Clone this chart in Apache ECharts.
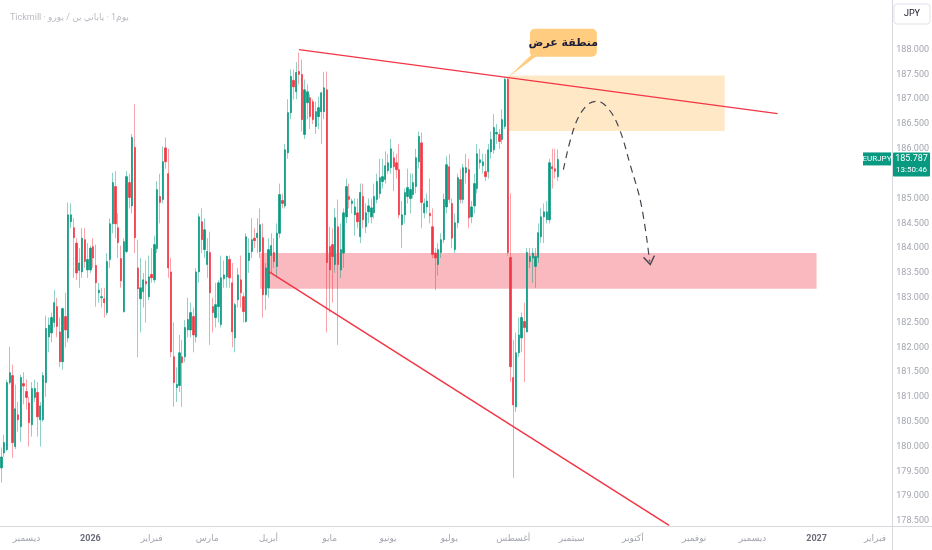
<!DOCTYPE html>
<html><head><meta charset="utf-8">
<script src="https://cdn.jsdelivr.net/npm/echarts@6/dist/echarts.min.js"></script>
<style>html,body{margin:0;padding:0;background:#fff}#c{width:932px;height:550px}</style>
</head><body><div id="c"></div>
<script>
// ---- data ----
const startDate = [2025, 10, 18];           // first bar (UTC y, m0, d)
const totalBars = 320;                       // bars on the axis incl. future space
const monthNames = ['يناير','فبراير','مارس','أبريل','مايو','يونيو','يوليو','أغسطس','سبتمبر','أكتوبر','نوفمبر','ديسمبر'];
const yTickMin = 178.5, yTickMax = 189, yTickStep = 0.5, yTopLabel = 188;
// [open, high, low, close]
const ohlc = [
[179.57,179.98,179.27,179.79],[179.87,180.24,179.79,180.08],[179.94,181.35,179.90,181.29],[181.29,182.01,181.25,181.49],
[181.43,181.65,179.77,180.08],[180.00,181.25,179.95,180.76],[180.64,180.90,180.30,180.54],[180.40,181.45,180.10,181.39],
[181.27,181.50,180.85,181.22],[181.11,181.35,180.75,180.99],[180.88,181.00,180.00,180.48],[180.44,181.30,180.20,181.17],
[180.99,181.35,180.90,181.17],[181.09,181.30,180.20,180.60],[180.54,180.90,180.00,180.82],[180.54,181.50,180.50,181.43],
[181.29,182.64,181.00,182.38],[182.21,182.60,181.90,182.45],[182.29,182.70,182.10,182.60],[182.50,183.16,182.40,182.90],
[182.82,183.00,182.20,182.42],[182.31,182.60,181.60,181.71],[181.71,182.80,181.55,182.78],[182.62,183.10,182.00,182.35],
[182.19,184.92,182.10,184.67],[184.53,184.90,184.40,184.67],[184.41,184.60,183.40,184.21],[184.10,184.20,183.36,183.50],
[183.55,184.00,183.20,183.70],[183.52,184.40,183.40,184.20],[184.17,184.40,183.60,183.73],[183.56,184.10,183.40,183.77],
[183.56,184.05,183.50,184.00],[184.03,184.20,183.60,183.80],[183.65,184.07,182.82,183.30],[183.10,183.30,182.90,183.15],
[183.00,183.20,182.80,183.02],[182.98,183.20,182.60,182.90],[182.70,183.90,182.65,183.73],[183.77,184.60,183.60,184.49],
[184.49,185.52,184.30,185.32],[185.24,185.55,184.20,184.49],[184.41,184.70,183.80,184.11],[183.79,184.05,183.20,183.34],
[182.72,184.20,182.70,184.13],[183.93,185.55,183.90,185.44],[185.32,185.50,184.80,185.02],[184.85,186.30,184.70,186.23],
[186.03,186.90,183.90,184.21],[183.60,184.17,181.80,183.18],[182.98,183.80,182.30,183.20],[183.12,183.50,182.80,183.36],
[183.33,183.75,182.50,183.28],[183.02,183.85,182.95,183.42],[183.47,184.00,183.30,183.40],[183.36,184.25,183.30,184.07],
[183.99,185.35,183.90,185.18],[185.04,185.50,184.50,184.92],[184.98,186.05,184.90,185.74],[186.02,186.23,185.60,185.74],
[185.50,186.00,183.40,183.60],[183.52,183.80,181.80,181.91],[181.81,182.50,180.80,181.29],[181.19,181.60,180.90,181.25],
[181.23,182.25,181.10,181.89],[181.81,182.15,180.80,181.69],[181.81,182.55,181.70,182.40],[182.35,183.00,182.20,182.56],
[182.35,182.90,182.20,182.70],[182.62,182.80,181.90,182.25],[182.21,183.60,182.10,183.52],[183.52,184.70,183.30,184.63],
[184.53,184.80,183.90,184.17],[183.97,184.60,183.80,184.37],[183.67,184.20,183.40,183.93],[183.91,184.33,182.05,183.10],
[182.82,183.00,182.30,182.70],[182.60,183.30,182.40,182.86],[182.82,183.35,182.50,183.30],[182.46,183.85,182.40,183.40],
[183.38,183.75,183.20,183.46],[183.42,183.85,183.20,183.83],[183.77,183.85,183.20,183.40],[183.30,183.70,182.00,182.31],
[182.19,182.90,181.90,182.86],[182.96,183.60,182.80,183.46],[183.36,183.85,182.80,183.10],[183.02,183.10,182.50,182.72],
[182.52,184.30,182.50,184.23],[183.75,184.20,183.50,183.90],[183.93,184.60,183.80,184.17],[184.20,184.40,184.00,184.15],
[184.21,184.60,183.90,184.30],[183.93,184.80,183.80,184.47],[184.21,184.50,182.60,183.06],[183.06,183.70,182.75,183.60],
[183.20,184.20,183.00,183.97],[183.85,184.30,183.50,184.05],[183.91,184.20,183.60,183.73],[183.63,184.50,183.40,184.30],
[184.30,185.30,184.20,185.08],[184.96,185.10,184.80,184.90],[184.85,186.10,184.80,185.98],[185.92,187.00,185.80,186.73],
[186.73,187.60,186.60,187.46],[187.38,187.60,187.00,187.25],[187.15,187.75,187.00,187.54],[187.56,187.94,187.30,187.50],
[187.50,187.80,186.35,186.59],[186.29,187.40,186.20,187.19],[186.93,187.30,186.60,187.15],[187.03,187.10,186.40,186.65],
[186.95,187.00,186.50,186.59],[186.45,186.95,186.30,186.75],[186.65,187.05,186.40,186.83],[186.75,187.15,186.10,187.13],
[186.75,187.55,186.60,187.23],[187.19,187.56,182.30,183.71],[184.03,184.43,182.70,183.56],[184.07,184.40,182.90,183.83],
[183.67,184.80,183.50,184.61],[184.43,184.98,182.05,183.67],[183.56,184.50,183.40,183.97],[183.90,184.80,183.60,184.71],
[184.63,185.40,184.50,185.24],[185.04,185.30,184.80,184.98],[184.90,185.00,184.70,184.95],[184.67,185.00,184.25,184.83],
[184.71,185.00,184.40,184.53],[184.23,185.30,184.10,185.12],[185.04,185.30,184.40,184.57],[184.43,184.90,184.30,184.71],
[184.73,185.00,184.50,184.85],[184.63,185.00,184.50,184.81],[184.71,185.30,184.60,185.04],[184.98,185.50,184.90,185.34],
[185.10,185.80,185.00,185.42],[185.34,185.80,185.20,185.44],[185.38,185.95,185.30,185.66],[185.56,185.90,185.50,185.72],
[185.62,186.20,185.50,186.00],[185.82,185.95,185.15,185.64],[185.72,185.90,185.40,185.58],[185.58,186.10,184.60,184.67],
[184.47,184.95,184.00,184.67],[184.67,185.20,184.50,185.12],[185.04,185.60,184.90,185.22],[185.00,185.50,184.70,185.18],
[185.08,185.50,185.00,185.32],[185.24,186.00,185.10,185.82],[185.74,186.35,185.60,186.25],[186.12,186.33,184.40,184.92],
[184.71,185.00,184.60,184.90],[184.83,185.10,184.70,184.95],[184.70,185.40,184.50,184.65],[184.43,184.80,183.80,183.87],
[183.90,184.00,183.15,183.80],[183.67,184.10,183.45,183.97],[183.91,184.30,183.80,184.17],[184.17,185.10,184.10,184.98],
[184.83,185.85,184.70,185.68],[185.64,185.90,184.90,184.98],[184.90,185.00,184.00,184.20],[183.97,184.70,183.90,184.51],
[184.51,185.50,184.40,185.42],[185.38,185.60,184.90,184.98],[184.98,185.70,184.90,185.62],[185.52,185.90,185.30,185.62],
[185.58,185.80,184.40,184.61],[184.63,184.95,184.50,184.83],[184.85,185.50,184.70,185.30],[185.20,186.10,185.10,185.90],
[185.72,186.00,185.60,185.78],[185.66,185.90,185.50,185.74],[185.54,185.90,185.35,185.44],[185.54,186.10,185.40,185.98],
[185.94,186.35,185.80,186.19],[185.98,186.70,185.90,186.43],[186.30,186.50,186.10,186.33],[186.29,186.40,186.00,186.15],
[186.19,186.80,186.10,186.59],[186.45,187.44,186.40,187.40],[187.40,187.44,183.85,183.91],[183.81,185.10,181.30,181.61],
[181.39,182.15,179.37,180.84],[180.80,182.30,180.70,181.89],[181.89,182.60,181.80,182.25],[182.19,182.70,181.90,182.60],
[182.52,182.90,181.30,182.40],[182.31,184.00,182.30,183.91],[183.73,184.00,183.60,183.83],[183.80,184.00,183.30,183.90],
[183.63,184.00,183.20,183.83],[183.81,184.50,183.70,184.31],[184.23,184.80,184.10,184.63],[184.63,184.90,184.10,184.73],
[184.57,184.95,184.50,184.73],[184.57,185.80,184.50,185.72],[185.64,186.00,185.20,185.60],[185.60,186.00,185.40,185.55],
[185.44,185.99,185.35,185.787]
];
// annotations: bar index / price
const supplyZone = [182, 260, 187.48, 186.36];   // fromBar, toBar, top, bottom
const demandZone = [93, 293, 183.90, 183.18];
const upperTrend = [[107, 188.00], [279, 186.71]];
const lowerTrend = [[96, 183.53], [240, 178.41]];
const projection = [[202,185.58],[206,186.45],[210,186.85],[214,186.96],[218,186.82],[222,186.42],[226,185.68],[230,184.87],[233,183.73]];
const zoneLabel = 'منطقة عرض';
const zoneLabelAt = [202, 188.14];
const zoneLabelTip = [182, 187.44];
const symbolName = 'EURJPY';
const lastPrice = 185.787;
const countdown = '13:50:46';
const currency = 'JPY';
const LRM = '\u200E';
const titleParts = ['Tickmill', '·', 'يورو', '/', 'ين', 'ياباني', '·', '1يوم'];
const titleText = titleParts.join(LRM + ' ' + LRM);

// ---- build ----
const cats = [];
{
  let t = Date.UTC(startDate[0], startDate[1], startDate[2]);
  while (cats.length < totalBars) {
    const d = new Date(t);
    const wd = d.getUTCDay();
    if (wd !== 0 && wd !== 6) cats.push(d.toISOString().slice(0, 10));
    t += 86400000;
  }
}
const isMonthStart = (i) => i > 0 && cats[i].slice(5, 7) !== cats[i - 1].slice(5, 7);

const UP = '#089981', DN = '#f23645';
const wickData = ohlc.map(r => [r[0], r[3], r[2], r[1]]);
const bodyData = ohlc.map(r => [r[0], r[3], Math.min(r[0], r[3]), Math.max(r[0], r[3])]);
const FONT = 'Roboto, "DejaVu Sans", sans-serif';

const chart = echarts.init(document.getElementById('c'), null, {renderer: 'canvas'});
const projData = projection.map((p, i) => {
  const item = {value: [cats[p[0]], p[1]]};
  if (i === projection.length - 1) {
    item.symbol = 'path://M0,0L6,9L12,0';
    item.symbolSize = [11, 8];
    item.symbolRotate = 9;
    item.symbolOffset = [0, -1];
    item.itemStyle = {color: 'rgba(0,0,0,0)', borderColor: '#434651', borderWidth: 1.3, opacity: 1};
  }
  return item;
});

chart.setOption({
  animation: false,
  backgroundColor: '#ffffff',
  title: {text: titleText, left: 5, top: 8, textStyle: {fontSize: 9, color: '#b9bbc2', fontWeight: 'normal', fontFamily: FONT}},
  grid: {left: 0, right: 40, top: 0, bottom: 29},
  xAxis: {
    type: 'category', data: cats, boundaryGap: true,
    axisLine: {show: false}, axisTick: {show: false}, splitLine: {show: false},
    axisLabel: {
      interval: (i) => isMonthStart(i),
      formatter: (v) => {
        const m = +v.slice(5, 7) - 1;
        return m === 0 ? '{y|' + v.slice(0, 4) + '}' : monthNames[m];
      },
      color: '#a3a6af', fontSize: 9, margin: 13, fontFamily: FONT,
      rich: {y: {color: '#6a6d78', fontSize: 9, fontWeight: 'bold', fontFamily: FONT}}
    }
  },
  yAxis: {
    type: 'value', position: 'right', min: yTickMin, max: yTickMax, interval: yTickStep,
    axisLine: {show: false}, axisTick: {show: false}, splitLine: {show: false},
    axisLabel: {
      formatter: (v) => v > yTopLabel + 0.001 ? '' : v.toFixed(3),
      color: '#a3a6af', fontSize: 9, margin: 6, fontFamily: FONT
    }
  },
  series: [
    {
      name: 'zones', type: 'line', data: [], silent: true, z: 1,
      markArea: {
        silent: true,
        data: [
          [{coord: [cats[supplyZone[0]], supplyZone[2]], itemStyle: {color: 'rgba(255,183,77,0.32)'}}, {coord: [cats[supplyZone[1]], supplyZone[3]]}],
          [{coord: [cats[demandZone[0]], demandZone[2]], itemStyle: {color: 'rgba(242,54,69,0.35)'}}, {coord: [cats[demandZone[1]], demandZone[3]]}]
        ]
      }
    },
    {
      name: 'wicks', type: 'candlestick', data: wickData, barWidth: 1, z: 2,
      itemStyle: {color: 'rgba(0,0,0,0)', color0: 'rgba(0,0,0,0)', borderColor: 'rgba(8,153,129,0.45)', borderColor0: 'rgba(242,54,69,0.45)', borderColorDoji: 'rgba(8,153,129,0.45)', borderWidth: 1}
    },
    {
      name: 'bodies', type: 'candlestick', data: bodyData, barWidth: 1.8, z: 3,
      itemStyle: {color: UP, color0: DN, borderColor: UP, borderColor0: DN, borderColorDoji: UP, borderWidth: 0.7}
    },
    {
      name: 'upper', type: 'line', data: upperTrend.map(p => [cats[p[0]], p[1]]), symbol: 'none', z: 5,
      lineStyle: {color: DN, width: 1.5}
    },
    {
      name: 'lower', type: 'line', data: lowerTrend.map(p => [cats[p[0]], p[1]]), symbol: 'none', z: 5, clip: false,
      lineStyle: {color: DN, width: 1.5}
    },
    {
      name: 'projection', type: 'line', data: projData, symbol: 'none', showSymbol: true, showAllSymbol: true, smooth: 0.4, z: 6,
      lineStyle: {color: '#434651', width: 1.2, type: [7, 5]}
    }
  ]
});

// overlay annotations placed through the chart's own scales
const px = (bar, price) => chart.convertToPixel({xAxisIndex: 0, yAxisIndex: 0}, [cats[bar], price]);
const la = px(zoneLabelAt[0], zoneLabelAt[1]);
const lt = px(zoneLabelTip[0], zoneLabelTip[1]);
const py = chart.convertToPixel({yAxisIndex: 0}, lastPrice);
chart.setOption({
  graphic: [
    {type: 'line', shape: {x1: 892.5, y1: 0, x2: 892.5, y2: 550}, style: {stroke: '#d6d8de', lineWidth: 1}, z: 10},
    {type: 'line', shape: {x1: 0, y1: 526.5, x2: 932, y2: 526.5}, style: {stroke: '#d6d8de', lineWidth: 1}, z: 10},
    {type: 'rect', shape: {x: 894, y: 4, width: 36, height: 20, r: 3}, style: {fill: '#fff', stroke: '#e0e3eb', lineWidth: 1}, z: 10},
    {type: 'text', x: 912, y: 14, style: {text: currency, fill: '#131722', fontSize: 9, fontFamily: FONT, align: 'center', verticalAlign: 'middle'}, z: 11},
    {type: 'polygon', shape: {points: [[la[0] - 32, la[1] + 12], [la[0] - 25, la[1] + 12], [lt[0], lt[1]]]}, style: {fill: '#ffcc80'}, z: 12},
    {type: 'rect', shape: {x: la[0] - 33.5, y: la[1] - 14, width: 67, height: 28, r: 5}, style: {fill: '#ffcc80'}, z: 12},
    {type: 'text', x: la[0], y: la[1], style: {text: zoneLabel, fill: '#1e1e3a', fontSize: 11, fontWeight: 'bold', fontFamily: '"DejaVu Sans", sans-serif', align: 'center', verticalAlign: 'middle'}, z: 13},
    {type: 'rect', shape: {x: 863, y: py - 7, width: 28, height: 13}, style: {fill: UP}, z: 12},
    {type: 'text', x: 877, y: py - 0.5, style: {text: symbolName, fill: '#fff', fontSize: 8, fontFamily: FONT, align: 'center', verticalAlign: 'middle'}, z: 13},
    {type: 'rect', shape: {x: 893, y: py - 7, width: 37, height: 24, r: 1}, style: {fill: UP}, z: 12},
    {type: 'text', x: 911.5, y: py - 0.5, style: {text: lastPrice.toFixed(3), fill: '#fff', fontSize: 9, fontFamily: FONT, align: 'center', verticalAlign: 'middle'}, z: 13},
    {type: 'text', x: 911.5, y: py + 10.5, style: {text: countdown, fill: '#fff', fontSize: 8, fontFamily: FONT, align: 'center', verticalAlign: 'middle'}, z: 13}
  ]
});
</script>
</body></html>
